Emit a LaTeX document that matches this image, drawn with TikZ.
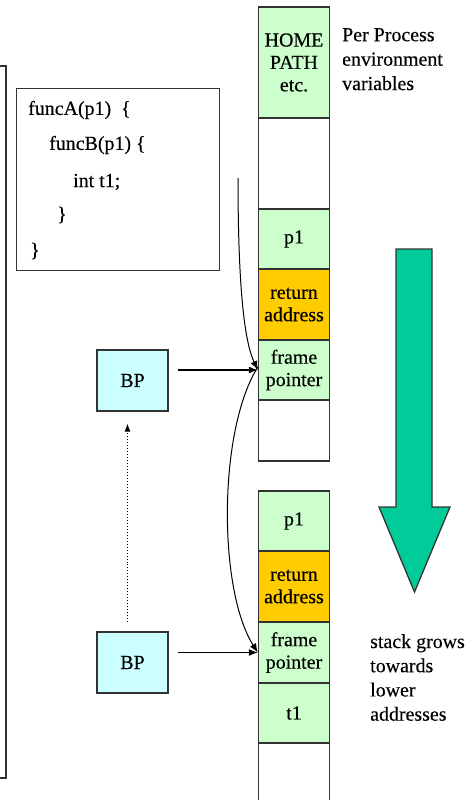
\documentclass[tikz,border=0pt]{standalone}
\usepackage{fontspec}
\setmainfont{Liberation Serif}[FakeBold=0.3]
\usetikzlibrary{arrows.meta}
\definecolor{cellgreen}{HTML}{CCFFCC}
\definecolor{cellorange}{HTML}{FFCC00}
\definecolor{bpcyan}{HTML}{CCFFFF}
\definecolor{bigarrow}{HTML}{00CC99}
\definecolor{edge}{HTML}{333333}
\begin{document}
\begin{tikzpicture}[x=1bp,y=-1bp,
  txt/.style={font=\fontsize{20}{22.5}\selectfont, inner sep=0},
  cell/.style={txt, draw=edge, line width=1.3bp, minimum width=71bp, align=center},
  gcell/.style={cell, fill=cellgreen},
  ocell/.style={cell, fill=cellorange},
  wcell/.style={cell, fill=white},
  bpbox/.style={txt, draw=edge, line width=1.3bp, fill=bpcyan, minimum width=71bp, minimum height=61bp},
  arr/.style={-{Latex[length=9bp,width=7bp]}, line width=1.3bp, black},
  curv/.style={-{Latex[length=9bp,width=7bp]}, line width=1bp, black},
]
\useasboundingbox (0,0) rectangle (465,800);

% left frame (partly off page)
\draw[draw=edge, line width=1.3bp] (-10,66) -- (6,66) -- (6,778) -- (-10,778);

% code box
\node[draw=edge, line width=1.3bp, minimum width=203bp, minimum height=182bp, anchor=north west, inner sep=0] (code) at (16,88) {};
\node[txt, anchor=west] (c1) at (28,110) {funcA(p1)\ \ \{};
\node[txt, anchor=west] (c2) at (49,145) {funcB(p1) \{};
\node[txt, anchor=west] (c3) at (73,182) {int t1;};
\node[txt, anchor=west] (c4) at (57,215) {\}};
\node[txt, anchor=west] (c5) at (30,251) {\}};

% stack column 1
\node[gcell, minimum height=111bp] (env) at (294,62.5) {HOME\\PATH\\etc.};
\node[wcell, minimum height=91bp] (blank1) at (294,163.5) {};
\node[gcell, minimum height=60bp] (p1a) at (294,239) {p1};
\node[ocell, minimum height=71bp] (ret1) at (294,304.5) {return\\address};
\node[gcell, minimum height=60bp] (fp1) at (294,370) {frame\\pointer};
\node[wcell, minimum height=61bp] (blank2) at (294,430.5) {};

% stack column 2
\node[gcell, minimum height=60bp] (p1b) at (294,521) {p1};
\node[ocell, minimum height=71bp] (ret2) at (294,586.5) {return\\address};
\node[gcell, minimum height=61bp] (fp2) at (294,652.5) {frame\\pointer};
\node[gcell, minimum height=60bp] (t1) at (294,713) {t1};
\node[wcell, minimum height=70bp] (blank3) at (294,778) {};

% labels
\node[txt, anchor=north west, align=left, font=\fontsize{20}{24.5}\selectfont] (envlbl) at (342,28) {Per Process\\environment\\variables};
\node[txt, anchor=north west, align=left, font=\fontsize{20}{24.3}\selectfont] (growlbl) at (370,634) {stack grows\\towards\\lower\\addresses};

% BP boxes
\node[bpbox] (bp1) at (132.5,380.5) {BP};
\node[bpbox] (bp2) at (132.5,662.5) {BP};

% arrows
\draw[arr, shorten <=9bp] (bp1.east |- fp1.west) -- (fp1.west);
\draw[arr, shorten <=9bp] (bp2.east |- fp2.west) -- (fp2.west);
\draw[-{Latex[length=8bp,width=6bp]}, line width=1bp, dotted, shorten <=9bp, shorten >=12bp]
  ([xshift=-5bp]bp2.north) -- ([xshift=-5bp]bp1.south);

\coordinate (cstart) at (238,178);
\draw[curv] (cstart) .. controls (238,300) and (246,345) .. (fp1.west);
\draw[curv] ([yshift=3bp]fp1.west) .. controls (218,430) and (218,590) .. (fp2.west);

% big green arrow
\draw[draw=edge, fill=bigarrow, line width=1.3bp, line join=miter]
  (396,249) -- (432,249) -- (432,507) -- (450,507) -- (414.5,592) -- (379,507) -- (396,507) -- cycle;
\end{tikzpicture}
\end{document}
